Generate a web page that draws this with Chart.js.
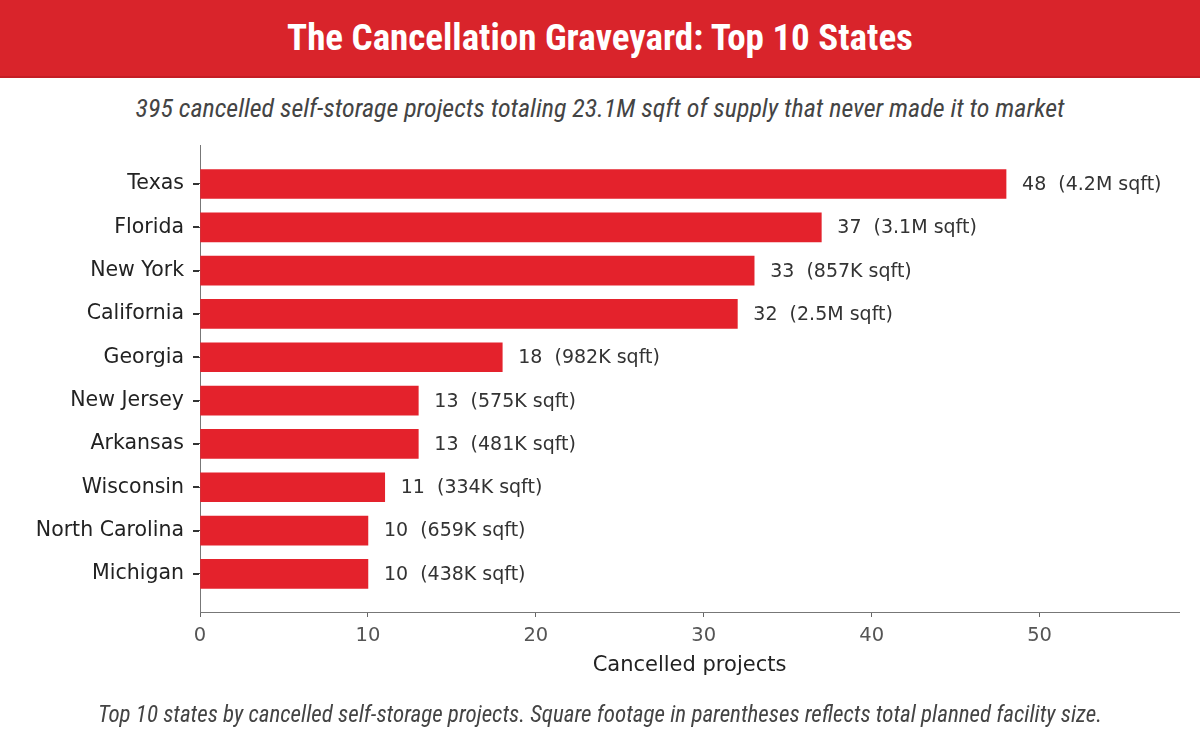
<!DOCTYPE html>
<html>
<head>
<meta charset="utf-8">
<script src="https://cdn.jsdelivr.net/npm/chart.js@4/dist/chart.umd.min.js"></script>
<style>
    html, body { margin: 0; padding: 0; background: #fff; }
    body { width: 1200px; height: 741px; position: relative; overflow: hidden; }
    .header {
        position: absolute; left: 0; top: 0; width: 1200px; height: 76px;
        background: #d9242b; border-bottom: 2px solid #c41e25;
        color: #fff; text-align: center;
        font-family: "Liberation Sans Narrow", "Roboto Condensed", "DejaVu Sans Condensed", sans-serif;
        font-stretch: condensed; font-weight: bold; font-size: 37px; line-height: 76px;
    }
    .subtitle, .caption {
        position: absolute; left: 0; width: 1200px; text-align: center;
        font-family: "Liberation Sans Narrow", "Roboto Condensed", "DejaVu Sans Condensed", sans-serif;
        font-stretch: condensed; font-style: italic;
    }
    .subtitle { top: 93px; font-size: 26px; color: #444; }
    .caption { top: 701px; font-size: 23px; color: #444; }
    #chart { position: absolute; left: 0; top: 0; }
</style>
</head>
<body>
<div class="header">The Cancellation Graveyard: Top 10 States</div>
<div class="subtitle">395 cancelled self-storage projects totaling 23.1M sqft of supply that never made it to market</div>
<canvas id="chart" width="1200" height="741"></canvas>
<div class="caption">Top 10 states by cancelled self-storage projects. Square footage in parentheses reflects total planned facility size.</div>

<script>
// 数据
const states = ['Texas', 'Florida', 'New York', 'California', 'Georgia', 'New Jersey', 'Arkansas', 'Wisconsin', 'North Carolina', 'Michigan'];
const projects = [48, 37, 33, 32, 18, 13, 13, 11, 10, 10];
const sqft = ['4.2M', '3.1M', '857K', '2.5M', '982K', '575K', '481K', '334K', '659K', '438K'];
const xTicks = [0, 10, 20, 30, 40, 50];

// 柱子末端的标签
const barLabels = {
    id: 'barLabels',
    afterDatasetsDraw(chart) {
        const ctx = chart.ctx;
        const meta = chart.getDatasetMeta(0);
        ctx.save();
        ctx.font = '19px "DejaVu Sans"';
        ctx.fillStyle = '#333';
        ctx.textBaseline = 'middle';
        meta.data.forEach((bar, i) => {
            ctx.fillText(projects[i] + '  (' + sqft[i] + ' sqft)', bar.x + 16, bar.y + 1);
        });
        ctx.restore();
    }
};

// y轴刻度短线
const yTickMarks = {
    id: 'yTickMarks',
    afterDraw(chart) {
        const ctx = chart.ctx;
        const yScale = chart.scales.y;
        const left = chart.chartArea.left;
        ctx.save();
        ctx.strokeStyle = '#333';
        ctx.lineWidth = 2;
        states.forEach((s, i) => {
            const y = Math.round(yScale.getPixelForValue(i));
            ctx.beginPath();
            ctx.moveTo(left - 7, y);
            ctx.lineTo(left - 1, y);
            ctx.stroke();
        });
        ctx.restore();
    }
};

document.addEventListener('DOMContentLoaded', function() {
    const ctx = document.getElementById('chart').getContext('2d');
    new Chart(ctx, {
        type: 'bar',
        data: {
            datasets: [{
                data: projects.map((v, i) => ({ x: v, y: i })),
                backgroundColor: '#e4222c',
                borderColor: '#e4222c',
                borderWidth: 0,
                barThickness: 29
            }]
        },
        options: {
            indexAxis: 'y',
            responsive: false,
            animation: false,
            layout: { padding: { left: 0, right: 21, top: 145, bottom: 61 } },
            plugins: { legend: { display: false }, tooltip: { enabled: false } },
            scales: {
                x: {
                    type: 'linear',
                    min: 0,
                    max: 58.3,
                    afterBuildTicks: (axis) => { axis.ticks = xTicks.map(v => ({ value: v })); },
                    afterFit: (axis) => { axis.height = 68; },
                    grid: { drawOnChartArea: false, drawTicks: true, tickLength: 5, color: '#666' },
                    border: { display: true, color: '#777', width: 1 },
                    ticks: { color: '#555', font: { family: 'DejaVu Sans', size: 19.5 }, padding: 7 },
                    title: {
                        display: true, text: 'Cancelled projects', color: '#222',
                        font: { family: 'DejaVu Sans', size: 21 }, padding: { top: 4, bottom: 2 }
                    }
                },
                y: {
                    type: 'linear',
                    reverse: true,
                    offset: false,
                    min: -0.9,
                    max: 9.88,
                    afterBuildTicks: (axis) => { axis.ticks = states.map((s, i) => ({ value: i })); },
                    afterFit: (axis) => { axis.width = 200; },
                    grid: { offset: false, drawOnChartArea: false, drawTicks: true, tickLength: 7, color: '#444' },
                    border: { display: true, color: '#777', width: 1 },
                    ticks: {
                        color: '#222', font: { family: 'DejaVu Sans', size: 20.5 }, padding: 9,
                        callback: (v) => states[v]
                    }
                }
            }
        },
        plugins: [barLabels, yTickMarks]
    });
});
</script>
</body>
</html>
